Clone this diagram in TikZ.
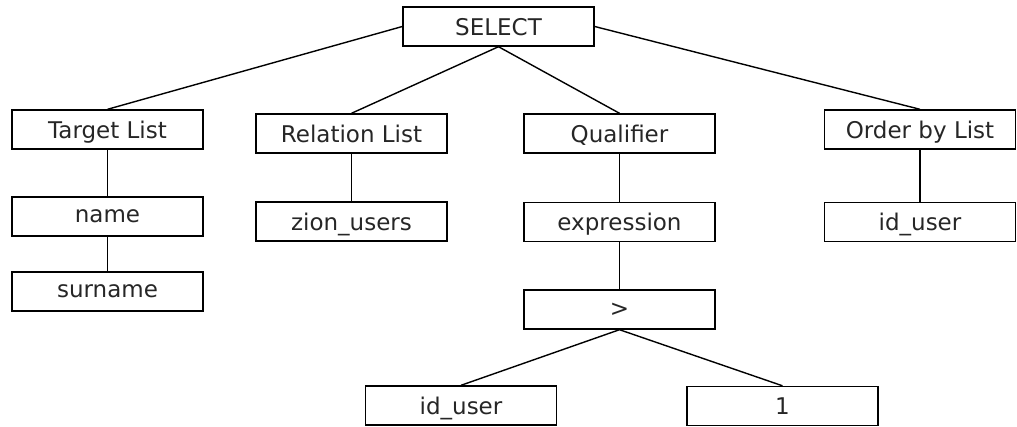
\documentclass[tikz,border=0pt]{standalone}
\usepackage{fontspec}
\setmainfont{DejaVu Sans}
\begin{document}
\begin{tikzpicture}[x=1pt,y=-1pt,
  box/.style={draw=black,line width=1.4pt,rectangle,minimum width=191pt,minimum height=39pt,inner sep=0pt,
    text depth=0pt,font=\fontsize{23}{27}\selectfont,text=black!85},
  link/.style={draw=black,line width=1.4pt}]
\useasboundingbox (0,0) rectangle (1017,426);
\node[box] (sel) at (498.5,26.5) {SELECT};
\node[box] (tl) at (107.5,129.5) {Target List};
\node[box] (nm) at (107.5,216.5) {name};
\node[box] (sn) at (107.5,291.5) {surname};
\node[box] (rl) at (351.5,133.5) {Relation List};
\node[box] (zu) at (351.5,221.5) {zion\_users};
\node[box] (q) at (619.5,133.5) {Qualifier};
\node[box] (ex) at (619.5,222) {expression};
\node[box] (gt) at (619.5,309.5) {>};
\node[box] (iu) at (461,405.5) {id\_user};
\node[box] (one) at (782.5,406) {1};
\node[box] (ob) at (920,129.5) {Order by List};
\node[box] (iu2) at (920,222) {id\_user};
\draw[link] (sel.west) -- (tl.north);
\draw[link] (sel.south) -- (rl.north);
\draw[link] (sel.south) -- (q.north);
\draw[link] (sel.east) -- (ob.north);
\draw[link] (tl) -- (nm);
\draw[link] (nm) -- (sn);
\draw[link] (rl) -- (zu);
\draw[link] (q) -- (ex);
\draw[link] (ex) -- (gt);
\draw[link] (gt.south) -- (iu.north);
\draw[link] (gt.south) -- (one.north);
\draw[link] (ob) -- (iu2);
\end{tikzpicture}
\end{document}
